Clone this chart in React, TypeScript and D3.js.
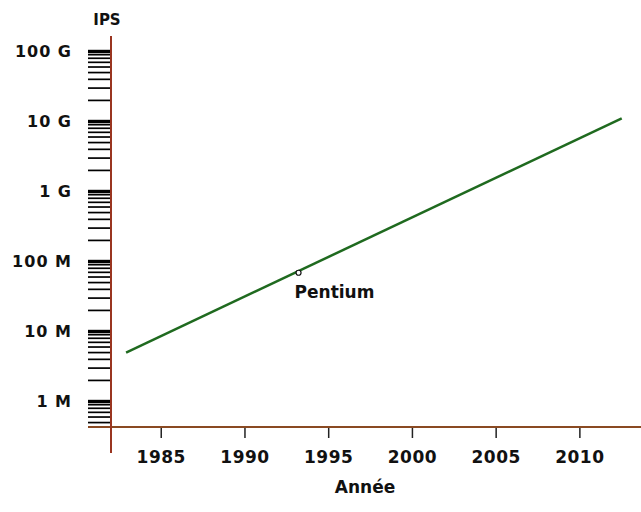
import { useEffect, useRef } from "react";
import * as d3 from "d3";

// growth line (year, instructions per second)
const lineYears = [1982.9, 2012.5];
const lineValues = [5.0e6, 1.11e10];

// annotated processor
const markerYear = 1993.2;
const markerValue = 6.9e7;
const markerLabel = "Pentium";

const xTickYears = [1985, 1990, 1995, 2000, 2005, 2010];
const decadeExponents = [6, 7, 8, 9, 10, 11];
const decadeLabels = ["1 M", "10 M", "100 M", "1 G", "10 G", "100 G"];

export default function App() {
  const svgRef = useRef<SVGSVGElement | null>(null);

  useEffect(() => {
    if (!svgRef.current) return;
    const svg = d3.select(svgRef.current);
    svg.selectAll("*").remove();

    const width = 641;
    const height = 512;
    const font = "'DejaVu Sans', Verdana, sans-serif";

    const x = d3.scaleLinear().domain([1982, 2013.65]).range([111, 641]);
    const y = d3
      .scaleLog()
      .domain([Math.pow(10, 5.64), Math.pow(10, 11.214)])
      .range([426.7, 36.5]);

    svg.attr("width", width).attr("height", height);
    svg.append("rect").attr("width", width).attr("height", height).attr("fill", "#ffffff");

    // minor / decade ticks on the log axis
    const [lo, hi] = y.domain();
    const ticks: { v: number; major: boolean }[] = [];
    for (let n = 5; n <= 11; n++) {
      for (let k = 1; k <= 9; k++) {
        const v = k * Math.pow(10, n);
        if (v >= lo && v <= hi) ticks.push({ v, major: k === 1 });
      }
    }

    svg
      .append("g")
      .selectAll("line")
      .data(ticks)
      .join("line")
      .attr("x1", 88)
      .attr("x2", 111)
      .attr("y1", (d) => y(d.v))
      .attr("y2", (d) => y(d.v))
      .attr("stroke", "#000")
      .attr("stroke-width", (d) => (d.major ? 3.4 : 1.7));

    svg
      .append("g")
      .selectAll("text")
      .data(decadeExponents)
      .join("text")
      .attr("x", 72)
      .attr("y", (d) => y(Math.pow(10, d)) + 6)
      .attr("text-anchor", "end")
      .attr("font-family", font)
      .attr("font-weight", "bold")
      .attr("font-size", 16)
      .attr("letter-spacing", 1)
      .attr("fill", "#111")
      .text((_, i) => decadeLabels[i]);

    // x ticks
    const xt = svg.append("g");
    xt.selectAll("line")
      .data(xTickYears)
      .join("line")
      .attr("x1", (d) => x(d))
      .attr("x2", (d) => x(d))
      .attr("y1", 427)
      .attr("y2", 438)
      .attr("stroke", "#222")
      .attr("stroke-width", 1.5);
    xt.selectAll("text")
      .data(xTickYears)
      .join("text")
      .attr("x", (d) => x(d))
      .attr("y", 463)
      .attr("text-anchor", "middle")
      .attr("font-family", font)
      .attr("font-weight", "bold")
      .attr("font-size", 17)
      .attr("letter-spacing", 0.5)
      .attr("fill", "#111")
      .text((d) => d);

    // axes
    svg
      .append("line")
      .attr("x1", 88)
      .attr("x2", width)
      .attr("y1", 427)
      .attr("y2", 427)
      .attr("stroke", "#8a4a22")
      .attr("stroke-width", 2);
    svg
      .append("line")
      .attr("x1", 111)
      .attr("x2", 111)
      .attr("y1", 36)
      .attr("y2", 453)
      .attr("stroke", "#9a3520")
      .attr("stroke-width", 2);

    // growth line
    const line = d3
      .line<number>()
      .x((d) => x(d))
      .y((_, i) => y(lineValues[i]));
    svg
      .append("path")
      .attr("d", line(lineYears))
      .attr("fill", "none")
      .attr("stroke", "#1f6a1f")
      .attr("stroke-width", 2.5);

    // Pentium marker
    svg
      .append("circle")
      .attr("cx", x(markerYear))
      .attr("cy", y(markerValue))
      .attr("r", 2.5)
      .attr("fill", "#fff")
      .attr("stroke", "#111")
      .attr("stroke-width", 1.2);
    svg
      .append("text")
      .attr("x", x(markerYear) - 4)
      .attr("y", y(markerValue) + 25)
      .attr("font-family", font)
      .attr("font-weight", "bold")
      .attr("font-size", 17)
      .attr("fill", "#111")
      .text(markerLabel);

    // axis titles
    svg
      .append("text")
      .attr("x", 107)
      .attr("y", 25)
      .attr("text-anchor", "middle")
      .attr("font-family", font)
      .attr("font-weight", "bold")
      .attr("font-size", 15)
      .attr("fill", "#111")
      .text("IPS");
    svg
      .append("text")
      .attr("x", 365)
      .attr("y", 493)
      .attr("text-anchor", "middle")
      .attr("font-family", font)
      .attr("font-weight", "bold")
      .attr("font-size", 17)
      .attr("fill", "#111")
      .text("Année");
  }, []);

  return (
    <svg
      ref={svgRef}
      style={{ position: "absolute", top: 0, left: 0, display: "block" }}
    />
  );
}
